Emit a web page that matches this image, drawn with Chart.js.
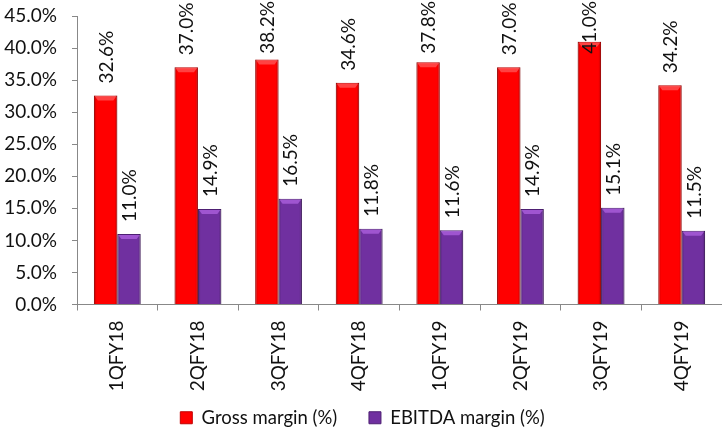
<!DOCTYPE html>
<html>
    <head>
        <script src="https://cdn.jsdelivr.net/npm/chart.js@4.4.0/dist/chart.umd.min.js"></script>
        <style>
            html, body { margin: 0; padding: 0; background: #fff; }
            #wrap { width: 722px; height: 427px; }
        </style>
    </head>
    <body>
        <div id="wrap"><canvas id="myChart"></canvas></div>
    </body>
    <script type="text/javascript">
        var quarters = ['1QFY18', '2QFY18', '3QFY18', '4QFY18', '1QFY19', '2QFY19', '3QFY19', '4QFY19'];
        var grossMargin = [32.6, 37.0, 38.2, 34.6, 37.8, 37.0, 41.0, 34.2];
        var ebitdaMargin = [11.0, 14.9, 16.5, 11.8, 11.6, 14.9, 15.1, 11.5];
        var yTicks = [0, 5, 10, 15, 20, 25, 30, 35, 40, 45];

        var FONT = 'Lato';
        var TEXT = '#111';
        var SIZE = 19;

        // shade the bars a bit so they look like the bevelled excel ones
        var bevelPlugin = {
            id: 'bevel',
            afterDatasetsDraw: function (chart) {
                var ctx = chart.ctx;
                chart.data.datasets.forEach(function (ds, di) {
                    var meta = chart.getDatasetMeta(di);
                    meta.data.forEach(function (bar) {
                        var left = bar.x - bar.width / 2;
                        var right = bar.x + bar.width / 2;
                        var top = bar.y;
                        var bottom = bar.base;
                        var g = ctx.createLinearGradient(left, 0, right, 0);
                        g.addColorStop(0, 'rgba(0,0,0,0.22)');
                        g.addColorStop(0.12, 'rgba(0,0,0,0)');
                        g.addColorStop(0.88, 'rgba(0,0,0,0)');
                        g.addColorStop(1, 'rgba(0,0,0,0.22)');
                        ctx.save();
                        ctx.fillStyle = g;
                        ctx.fillRect(left, top, right - left, bottom - top);
                        // top bevel
                        ctx.fillStyle = ds.bevel;
                        ctx.beginPath();
                        ctx.moveTo(left + 1, top + 1);
                        ctx.lineTo(right - 1, top + 1);
                        ctx.lineTo(right - 4, top + 5);
                        ctx.lineTo(left + 4, top + 5);
                        ctx.closePath();
                        ctx.fill();
                        ctx.restore();
                    });
                });
            }
        };

        // rotated value labels above each bar
        var valueLabels = {
            id: 'valueLabels',
            afterDatasetsDraw: function (chart) {
                var ctx = chart.ctx;
                ctx.save();
                ctx.font = SIZE + 'px ' + FONT;
                ctx.fillStyle = TEXT;
                ctx.textAlign = 'left';
                ctx.textBaseline = 'middle';
                chart.data.datasets.forEach(function (ds, di) {
                    var meta = chart.getDatasetMeta(di);
                    meta.data.forEach(function (bar, i) {
                        var txt = ds.data[i].toFixed(1) + '%';
                        var w = ctx.measureText(txt).width;
                        var start = bar.y - 12;
                        if (start - w < 1) start = w + 1;
                        ctx.save();
                        ctx.translate(bar.x + 1, start);
                        ctx.rotate(-Math.PI / 2);
                        ctx.fillText(txt, 0, 0);
                        ctx.restore();
                    });
                });
                ctx.restore();
            }
        };

        var ctx = document.getElementById('myChart').getContext('2d');
        var chart = new Chart(ctx, {
            type: 'bar',
            data: {
                labels: quarters,
                datasets: [{
                    label: 'Gross margin (%)',
                    data: grossMargin,
                    backgroundColor: '#ff0000',
                    borderColor: '#c00000',
                    borderWidth: 1,
                    bevel: 'rgba(255,120,120,0.55)',
                    categoryPercentage: 0.58,
                    barPercentage: 1.0
                }, {
                    label: 'EBITDA margin (%)',
                    data: ebitdaMargin,
                    backgroundColor: '#7030a0',
                    borderColor: '#4e1f73',
                    borderWidth: 1,
                    bevel: 'rgba(190,110,240,0.6)',
                    categoryPercentage: 0.58,
                    barPercentage: 1.0
                }]
            },
            options: {
                responsive: true,
                maintainAspectRatio: false,
                animation: false,
                layout: { padding: { top: 16, right: -3, left: 0, bottom: -10 } },
                scales: {
                    x: {
                        grid: {
                            display: true,
                            drawOnChartArea: false,
                            color: '#888',
                            tickLength: 6,
                            offset: true
                        },
                        border: { color: '#888', width: 1 },
                        ticks: {
                            minRotation: 90,
                            maxRotation: 90,
                            padding: 10,
                            color: TEXT,
                            font: { family: FONT, size: SIZE }
                        },
                        afterFit: function (scale) { scale.height = 96; }
                    },
                    y: {
                        min: 0,
                        max: 45,
                        afterBuildTicks: function (scale) {
                            scale.ticks = yTicks.map(function (v) { return { value: v }; });
                        },
                        grid: {
                            display: true,
                            drawOnChartArea: false,
                            color: '#888',
                            tickLength: 5
                        },
                        border: { color: '#888', width: 1 },
                        ticks: {
                            padding: 15,
                            color: TEXT,
                            font: { family: FONT, size: SIZE },
                            callback: function (v) { return v.toFixed(1) + '%'; }
                        },
                        afterFit: function (scale) {
                            scale.width = 77;
                            scale.paddingTop = 0;
                        }
                    }
                },
                plugins: {
                    legend: {
                        position: 'bottom',
                        labels: {
                            boxWidth: 12,
                            boxHeight: 12,
                            padding: 8,
                            color: TEXT,
                            font: { family: FONT, size: 18.5 },
                            generateLabels: function (chart) {
                                var items = Chart.defaults.plugins.legend.labels.generateLabels(chart);
                                // extra gap after the first entry
                                items[0].text += '\u00a0\u00a0\u00a0\u00a0\u00a0';
                                return items;
                            }
                        }
                    },
                    tooltip: { enabled: false }
                }
            },
            plugins: [bevelPlugin, valueLabels]
        });
    </script>
</html>
